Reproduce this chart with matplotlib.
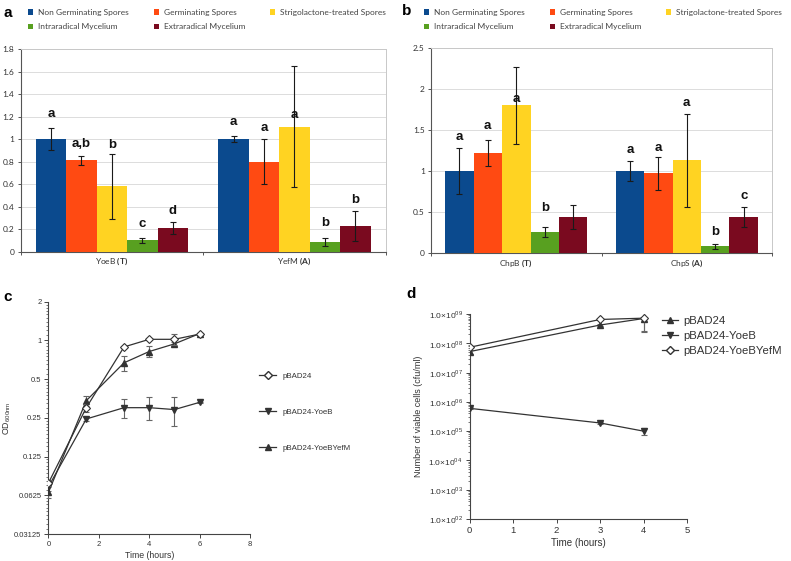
import numpy as np
import matplotlib
import matplotlib.pyplot as plt
from matplotlib.ticker import FixedLocator, LogLocator, NullFormatter, FixedFormatter
from matplotlib.lines import Line2D
from matplotlib.patches import Patch

plt.rcParams['mathtext.fontset'] = 'custom'
plt.rcParams['mathtext.bf'] = 'Lato:bold'
plt.rcParams['mathtext.rm'] = 'Lato'

# ---------------- data ----------------
series = ["Non Germinating Spores", "Germinating Spores", "Strigolactone-treated Spores",
          "Intraradical Mycelium", "Extraradical Mycelium"]
colors = ["#0B4A8E", "#FF4A12", "#FFD322", "#58A020", "#7A0A1F"]

# panel a
a_cats = ["YoeB", "YefM"]
a_tags = ["T", "A"]
a_vals = [[1.00, 1.00], [0.81, 0.80], [0.58, 1.11], [0.10, 0.085], [0.21, 0.23]]
a_errs = [[0.10, 0.03], [0.04, 0.20], [0.29, 0.535], [0.02, 0.035], [0.05, 0.135]]
a_letters = [["a", "a"], ["a,b", "a"], ["b", "a"], ["c", "b"], ["d", "b"]]
a_letter_y = [[1.22, 1.155], [0.96, 1.10], [0.95, 1.21], [0.246, 0.255], [0.364, 0.46]]

# panel b
b_cats = ["ChpB", "ChpS"]
b_tags = ["T", "A"]
b_vals = [[1.00, 1.00], [1.22, 0.97], [1.80, 1.13], [0.26, 0.08], [0.44, 0.44]]
b_errs = [[0.28, 0.125], [0.16, 0.205], [0.47, 0.565], [0.06, 0.035], [0.15, 0.125]]
b_letters = [["a", "a"], ["a", "a"], ["a", "a"], ["b", "b"], ["", "c"]]
b_letter_y = [[1.41, 1.26], [1.55, 1.28], [1.88, 1.83], [0.545, 0.26], [0.0, 0.70]]

# panel c (OD600)
c_time = [0, 1.5, 3, 4, 5, 6]
c_pbad = [0.078, 0.30, 0.89, 1.02, 1.02, 1.12]
c_pbad_err = [0.004, 0.02, 0.02, 0.02, 0.10, 0.02]
c_yoeb = [0.073, 0.245, 0.30, 0.30, 0.29, 0.33]
c_yoeb_err = [0.005, 0.01, 0.05, 0.06, 0.075, 0.005]
c_yy = [0.066, 0.34, 0.67, 0.82, 0.94, 1.13]
c_yy_err = [0.006, 0.03, 0.09, 0.08, 0.04, 0.02]

# panel d (viable cells)
d_time = [0, 3, 4]
d_pbad = [5.2e7, 4.2e8, 7.0e8]
d_pbad_err = [8e6, 3e7, 4.5e8]
d_yoeb = [6.0e5, 1.9e5, 1.0e5]
d_yoeb_err = [5e4, 2e4, 2.5e4]
d_yy = [7.3e7, 6.5e8, 7.2e8]
d_yy_err = [5e6, 3e7, 4.5e8]
d_ticks = [1e2, 1e3, 1e4, 1e5, 1e6, 1e7, 1e8, 1e9]
d_ticklabels = [r"1.0×10$^{\mathregular{%02d}}$" % e for e in range(2, 10)]

c_ticks = [0.03125, 0.0625, 0.125, 0.25, 0.5, 1, 2]
c_ticklabels = ["0.03125", "0.0625", "0.125", "0.25", "0.5", "1", "2"]

# ---------------- figure ----------------
fig = plt.figure(figsize=(7.91, 5.61), dpi=100)

axA = fig.add_axes([0.0262, 0.5513, 0.4614, 0.3614])
axB = fig.add_axes([0.5449, 0.549, 0.4311, 0.3654])
axC = fig.add_axes([0.0613, 0.0481, 0.2547, 0.4141])
axD = fig.add_axes([0.5938, 0.0749, 0.2747, 0.3654])

W = 0.167


def bar_panel(ax, cats, tags, vals, errs, letters, letter_y, ymax, ystep, ylabels):
    x = np.arange(len(cats))
    for i in range(len(series)):
        ax.bar(x + (i - 2) * W, vals[i], W, color=colors[i], yerr=errs[i],
               error_kw=dict(ecolor="#1a1a1a", elinewidth=0.8, capsize=2.2, capthick=0.8),
               zorder=3, linewidth=0)
        for j in range(len(cats)):
            if letters[i][j]:
                ax.text(x[j] + (i - 2) * W, letter_y[i][j], letters[i][j], ha="center",
                        va="center", fontsize=9.5, fontweight="bold",
                        family="Liberation Sans", color="#111111", zorder=5)
    ax.set_xlim(-0.5, len(cats) - 0.5)
    ax.set_ylim(0, ymax)
    yt = np.arange(0, ymax + 1e-9, ystep)
    ax.set_yticks(yt)
    ax.set_yticklabels(ylabels, fontsize=6, family="Lato", color="#333333")
    ax.yaxis.grid(True, color="#DCDCDC", linewidth=0.7, zorder=0)
    ax.set_axisbelow(True)
    ax.set_xticks([-0.5, 0.5, 1.5])
    ax.set_xticklabels([])
    ax.tick_params(axis="x", length=2.5, width=0.7, color="#555555", direction="out")
    ax.tick_params(axis="y", length=2.5, width=0.7, color="#555555", pad=2)
    for s in ["top", "right"]:
        ax.spines[s].set_color("#C8C8C8")
        ax.spines[s].set_linewidth(0.7)
    for s in ["left", "bottom"]:
        ax.spines[s].set_color("#555555")
        ax.spines[s].set_linewidth(0.8)
    for j, (c, t) in enumerate(zip(cats, tags)):
        ax.text(j, -0.02 * ymax, c + r" $\mathbf{(" + t + r")}$", ha="center", va="top",
                fontsize=6, family="Lato", color="#333333")


bar_panel(axA, a_cats, a_tags, a_vals, a_errs, a_letters, a_letter_y, 1.8, 0.2,
          ["0", "0.2", "0.4", "0.6", "0.8", "1", "1.2", "1.4", "1.6", "1.8"])
bar_panel(axB, b_cats, b_tags, b_vals, b_errs, b_letters, b_letter_y, 2.5, 0.5,
          ["0", "0.5", "1", "1.5", "2", "2.5"])

# legends for a and b
order = [0, 3, 1, 4, 2]
handles = [Patch(facecolor=colors[i], edgecolor="none") for i in order]
labels = [series[i] for i in order]
for xa in [28 / 791, 424 / 791]:
    fig.legend(handles, labels, ncol=3, loc="upper left", bbox_to_anchor=(xa, 1 - 9 / 561),
               frameon=False, prop=dict(family="Lato", size=6.0),
               handlelength=0.6, handleheight=0.6, handletextpad=0.6,
               columnspacing=3.0, labelspacing=0.85, borderpad=0, borderaxespad=0,
               labelcolor="#444444")

# ---------------- panel c ----------------
lc = "#333333"
ek = dict(ecolor="#666666", elinewidth=0.8, capsize=2.5, capthick=0.8)
axC.errorbar(c_time, c_pbad, yerr=c_pbad_err, color=lc, lw=0.9, marker="D", ms=3.6,
             mfc="white", mec=lc, mew=0.8, label="pBAD24", zorder=4, **ek)
axC.errorbar(c_time, c_yoeb, yerr=c_yoeb_err, color=lc, lw=0.9, marker="v", ms=4,
             mfc=lc, mec=lc, label="pBAD24-YoeB", zorder=3, **ek)
axC.errorbar(c_time, c_yy, yerr=c_yy_err, color=lc, lw=0.9, marker="^", ms=4,
             mfc=lc, mec=lc, label="pBAD24-YoeBYefM", zorder=3, **ek)
axC.set_yscale("log", base=2)
axC.set_ylim(0.03125, 2)
axC.set_xlim(0, 8)
axC.yaxis.set_major_locator(FixedLocator(c_ticks))
axC.yaxis.set_major_formatter(FixedFormatter(c_ticklabels))
axC.yaxis.set_minor_locator(LogLocator(base=2, subs=np.linspace(1, 2, 11)[1:-1]))
axC.yaxis.set_minor_formatter(NullFormatter())
axC.set_xticks([0, 2, 4, 6, 8])

# ---------------- panel d ----------------
axD.errorbar(d_time, d_pbad, yerr=d_pbad_err, color=lc, lw=0.9, marker="^", ms=4.5,
             mfc=lc, mec=lc, label="pBAD24", zorder=3, **ek)
axD.errorbar(d_time, d_yoeb, yerr=d_yoeb_err, color=lc, lw=0.9, marker="v", ms=4.5,
             mfc=lc, mec=lc, label="pBAD24-YoeB", zorder=3, **ek)
axD.errorbar(d_time, d_yy, yerr=d_yy_err, color=lc, lw=0.9, marker="D", ms=3.6,
             mfc="white", mec=lc, mew=0.8, label="pBAD24-YoeBYefM", zorder=4, **ek)
axD.set_yscale("log")
axD.set_ylim(1e2, 1e9)
axD.set_xlim(0, 5)
axD.yaxis.set_major_locator(FixedLocator(d_ticks))
axD.yaxis.set_major_formatter(FixedFormatter(d_ticklabels))
axD.yaxis.set_minor_locator(LogLocator(base=10, subs=np.arange(2, 10)))
axD.yaxis.set_minor_formatter(NullFormatter())
axD.set_xticks([0, 1, 2, 3, 4, 5])

for ax in [axC, axD]:
    for s in ["top", "right"]:
        ax.spines[s].set_visible(False)
    for s in ["left", "bottom"]:
        ax.spines[s].set_color("#444444")
        ax.spines[s].set_linewidth(0.8)
    ax.tick_params(which="major", length=3, width=0.7, color="#444444", labelsize=5.5,
                   labelcolor="#333333", pad=2)
    ax.tick_params(which="minor", length=1.6, width=0.5, color="#444444")
    for lab in ax.get_xticklabels() + ax.get_yticklabels():
        lab.set_family("Liberation Sans")
    ax.set_xlabel("Time (hours)", fontsize=6.3, family="Liberation Sans", color="#333333",
                  labelpad=2)

axD.tick_params(axis="x", which="major", labelsize=6.8)
axD.tick_params(axis="y", which="major", labelsize=6)
axD.xaxis.label.set_size(7)

axC.set_ylabel(r"OD$_{\mathregular{600nm}}$", fontsize=6.3, family="Liberation Sans",
               color="#333333", labelpad=1)
axD.set_ylabel("Number of viable cells (cfu/ml)", fontsize=6.5, family="Liberation Sans",
               color="#333333", labelpad=4)


def leg_handles(ax):
    hs, ls = ax.get_legend_handles_labels()
    out = []
    for h in hs:
        ln = h[0]
        out.append(Line2D([], [], color=ln.get_color(), lw=0.9, marker=ln.get_marker(),
                          ms=ln.get_markersize(), mfc=ln.get_markerfacecolor(),
                          mec=ln.get_markeredgecolor()))
    return out, ls


hC, lC = leg_handles(axC)
fig.legend(hC, lC, loc="upper left", bbox_to_anchor=(259 / 791, 1 - 372 / 561),
           frameon=False, prop=dict(family="Liberation Sans", size=5.7),
           handlelength=2.2, handletextpad=0.8, labelspacing=3.6, borderpad=0,
           borderaxespad=0, labelcolor="#333333")
hD, lD = leg_handles(axD)
fig.legend(hD, lD, loc="upper left", bbox_to_anchor=(662 / 791, 1 - 316 / 561),
           frameon=False, prop=dict(family="Liberation Sans", size=8.2),
           handlelength=1.4, handletextpad=0.5, labelspacing=0.45, borderpad=0,
           borderaxespad=0, labelcolor="#333333")

# panel letters
for t, x, y in [("a", 4, 13), ("b", 402, 11), ("c", 3, 297), ("d", 406, 294)]:
    fig.text(x / 791, 1 - y / 561, t, fontsize=11, fontweight="bold",
             family="Liberation Sans", va="center", ha="left")

fig.savefig("out.png", dpi=100)
